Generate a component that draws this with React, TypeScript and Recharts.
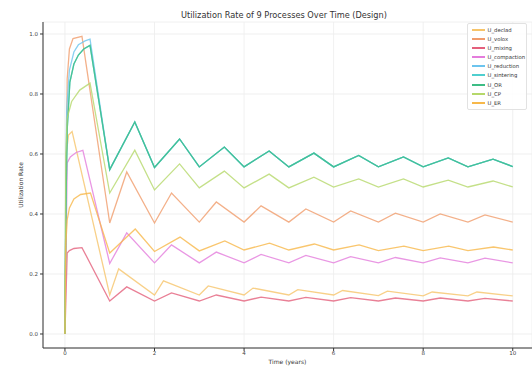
import { LineChart, Line, XAxis, YAxis, CartesianGrid } from "recharts";

// [time (years), utilization] pairs
const DECLAD: [number, number][] = [
  [0, 0], [0.03, 0.6], [0.08, 0.663], [0.16, 0.675], [1, 0.13], [1.2, 0.217],
  [2, 0.13], [2.2, 0.177], [3, 0.13], [3.2, 0.16], [4, 0.13], [4.2, 0.153],
  [5, 0.13], [5.2, 0.148], [6, 0.13], [6.2, 0.145], [7, 0.128], [7.2, 0.143],
  [8, 0.127], [8.2, 0.14], [9, 0.127], [9.2, 0.14], [10, 0.127],
];
const VOLOX: [number, number][] = [
  [0, 0], [0.05, 0.85], [0.1, 0.95], [0.18, 0.985], [0.38, 0.992], [1, 0.37],
  [1.38, 0.54], [2, 0.37], [2.38, 0.47], [3, 0.373], [3.38, 0.44], [4, 0.373],
  [4.38, 0.427], [5, 0.373], [5.38, 0.417], [6, 0.373], [6.38, 0.41], [7, 0.373],
  [7.38, 0.403], [8, 0.373], [8.38, 0.4], [9, 0.373], [9.38, 0.397], [10, 0.373],
];
const MIXING: [number, number][] = [
  [0, 0], [0.05, 0.27], [0.1, 0.278], [0.2, 0.285], [0.38, 0.288], [1, 0.11],
  [1.38, 0.157], [2, 0.11], [2.38, 0.137], [3, 0.11], [3.38, 0.13], [4, 0.11],
  [4.38, 0.123], [5, 0.11], [5.38, 0.122], [6, 0.11], [6.38, 0.121], [7, 0.11],
  [7.38, 0.12], [8, 0.11], [8.38, 0.12], [9, 0.11], [9.38, 0.119], [10, 0.11],
];
const COMPACTION: [number, number][] = [
  [0, 0], [0.05, 0.57], [0.12, 0.59], [0.25, 0.605], [0.4, 0.612], [1, 0.235],
  [1.38, 0.337], [2, 0.237], [2.38, 0.297], [3, 0.237], [3.38, 0.273], [4, 0.237],
  [4.38, 0.265], [5, 0.237], [5.38, 0.262], [6, 0.237], [6.38, 0.258], [7, 0.237],
  [7.38, 0.255], [8, 0.237], [8.38, 0.254], [9, 0.237], [9.38, 0.253], [10, 0.237],
];
// reduction / sintering / OR run on top of each other after year 1
const TEAL_TAIL: [number, number][] = [
  [1, 0.548], [1.56, 0.707], [2, 0.555], [2.56, 0.65], [3, 0.557], [3.56, 0.623],
  [4, 0.557], [4.56, 0.61], [5, 0.557], [5.56, 0.603], [6, 0.557], [6.56, 0.595],
  [7, 0.557], [7.56, 0.59], [8, 0.557], [8.56, 0.587], [9, 0.557], [9.56, 0.583],
  [10, 0.558],
];
const REDUCTION_START: [number, number][] = [
  [0, 0], [0.02, 0.55], [0.04, 0.75], [0.1, 0.88], [0.2, 0.94], [0.3, 0.964],
  [0.45, 0.977], [0.56, 0.983],
];
const OR_START: [number, number][] = [
  [0, 0], [0.02, 0.4], [0.05, 0.68], [0.11, 0.84], [0.2, 0.9], [0.3, 0.93],
  [0.42, 0.95], [0.56, 0.962],
];
const CP: [number, number][] = [
  [0, 0], [0.02, 0.6], [0.05, 0.72], [0.15, 0.775], [0.33, 0.813], [0.56, 0.836],
  [1, 0.47], [1.56, 0.613], [2, 0.48], [2.56, 0.567], [3, 0.487], [3.56, 0.543],
  [4, 0.487], [4.56, 0.533], [5, 0.487], [5.56, 0.523], [6, 0.49], [6.56, 0.517],
  [7, 0.49], [7.56, 0.517], [8, 0.49], [8.56, 0.513], [9, 0.49], [9.56, 0.51],
  [10, 0.49],
];
const ER: [number, number][] = [
  [0, 0], [0.02, 0.3], [0.05, 0.38], [0.1, 0.42], [0.2, 0.45], [0.35, 0.465],
  [0.57, 0.47], [1, 0.27], [1.57, 0.35], [2, 0.275], [2.57, 0.323], [3, 0.277],
  [3.57, 0.31], [4, 0.28], [4.57, 0.303], [5, 0.28], [5.57, 0.3], [6, 0.28],
  [6.57, 0.297], [7, 0.278], [7.57, 0.293], [8, 0.278], [8.57, 0.293], [9, 0.278],
  [9.57, 0.29], [10, 0.28],
];

const X_TICKS = [0, 2, 4, 6, 8, 10];
const Y_TICKS = [0, 0.2, 0.4, 0.6, 0.8, 1.0];

const SERIES = [
  { name: "U_declad", color: "#f6c46a", points: DECLAD },
  { name: "U_volox", color: "#f09c6c", points: VOLOX },
  { name: "U_mixing", color: "#e4607c", points: MIXING },
  { name: "U_compaction", color: "#e47ddc", points: COMPACTION },
  { name: "U_reduction", color: "#6cc4ee", points: [...REDUCTION_START, ...TEAL_TAIL] },
  { name: "U_sintering", color: "#4fcfcf", points: [...OR_START, ...TEAL_TAIL] },
  { name: "U_OR", color: "#3dbd85", points: [...OR_START, ...TEAL_TAIL] },
  { name: "U_CP", color: "#b5d86a", points: CP },
  { name: "U_ER", color: "#f7b84a", points: ER },
];

const FONT = "'DejaVu Sans', sans-serif";

export default function App() {
  return (
    <div style={{ position: "fixed", left: 0, top: 0, width: 532, height: 369, background: "#fff", fontFamily: FONT }}>
      <div
        style={{
          position: "absolute",
          left: 0,
          width: 568,
          top: 9,
          textAlign: "center",
          fontSize: 8.2,
          color: "#333",
          lineHeight: "12px",
        }}
      >
        Utilization Rate of 9 Processes Over Time (Design)
      </div>
      <LineChart width={532} height={369} margin={{ top: 22, right: 0, bottom: 0, left: 0 }}>
        <CartesianGrid stroke="#ececec" strokeWidth={0.8} />
        <XAxis
          type="number"
          dataKey="t"
          domain={[-0.49, 10.43]}
          allowDataOverflow
          ticks={X_TICKS}
          height={21}
          tickSize={3}
          tickMargin={0}
          tick={{ fontSize: 5.5, fill: "#444", fontFamily: FONT }}
          axisLine={{ stroke: "#333", strokeWidth: 1 }}
          tickLine={{ stroke: "#333" }}
          label={{ value: "Time (years)", position: "insideBottom", offset: 5, style: { fontSize: 6, fill: "#333", fontFamily: FONT } }}
        />
        <YAxis
          type="number"
          domain={[-0.0467, 1.04]}
          allowDataOverflow
          ticks={Y_TICKS}
          width={43}
          tickSize={3}
          tickMargin={2}
          tickFormatter={(v: number) => v.toFixed(1)}
          tick={{ fontSize: 5.5, fill: "#444", fontFamily: FONT }}
          axisLine={{ stroke: "#333", strokeWidth: 1 }}
          tickLine={{ stroke: "#333" }}
          label={{
            value: "Utilization Rate",
            angle: -90,
            position: "insideLeft",
            offset: 21,
            style: { textAnchor: "middle", fontSize: 6, fill: "#333", fontFamily: FONT },
          }}
        />
        {SERIES.map((s) => (
          <Line
            key={s.name}
            data={s.points.map(([t, u]) => ({ t, u }))}
            dataKey="u"
            name={s.name}
            type="linear"
            stroke={s.color}
            strokeWidth={1.3}
            strokeOpacity={0.8}
            dot={false}
            activeDot={false}
            isAnimationActive={false}
          />
        ))}
      </LineChart>
      <div
        style={{
          position: "absolute",
          left: 467,
          top: 23,
          width: 60,
          height: 87,
          boxSizing: "border-box",
          border: "1px solid #e2e2e2",
          borderRadius: 2,
          background: "rgba(255,255,255,0.85)",
          paddingTop: 1,
        }}
      >
        {SERIES.map((s) => (
          <div key={s.name} style={{ height: 9.16, display: "flex", alignItems: "center" }}>
            <div style={{ marginLeft: 3.5, width: 13, height: 2, background: s.color }} />
            <span style={{ marginLeft: 3, fontSize: 5.3, color: "#333", whiteSpace: "nowrap" }}>{s.name}</span>
          </div>
        ))}
      </div>
    </div>
  );
}
